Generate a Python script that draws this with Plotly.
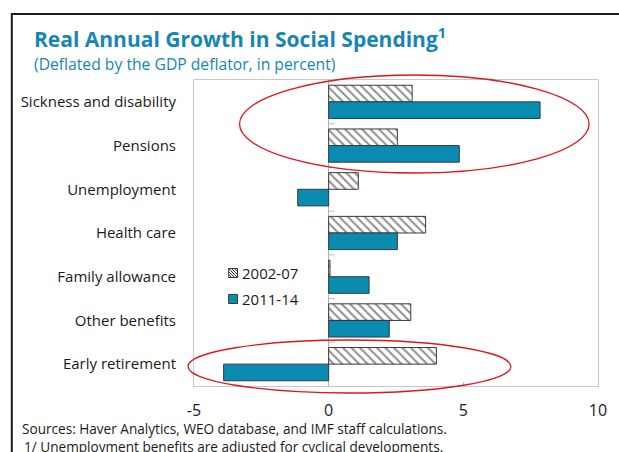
import plotly.graph_objects as go

# Spending categories, top to bottom
categories = [
    "Sickness and disability",
    "Pensions",
    "Unemployment",
    "Health care",
    "Family allowance",
    "Other benefits",
    "Early retirement",
]
# Average real annual growth, percent
growth_2002_07 = [3.1, 2.55, 1.1, 3.6, 0.05, 3.05, 4.0]
growth_2011_14 = [7.85, 4.85, -1.15, 2.55, 1.5, 2.25, -3.9]
series_names = ["2002-07", "2011-14"]
x_ticks = [-5, 0, 5, 10]

TEAL = "#0a8cb0"
TITLE_BLUE = "#1586b3"
FONT = "'Open Sans', sans-serif"

# Plot area in pixels (for placing decorations in paper coordinates)
W, H = 619, 452
L, R, T, B = 194, 17, 80, 66
PW, PH = W - L - R, H - T - B


def px(xp):
    return (xp - L) / PW


def py(yp):
    return (H - B - yp) / PH


fig = go.Figure()
fig.add_trace(go.Bar(
    y=categories, x=growth_2002_07, orientation="h", name=series_names[0],
    marker=dict(color="white", line=dict(color="#3a3a3a", width=1),
                pattern=dict(shape="\\", fgcolor="#222222", bgcolor="white",
                             size=6, solidity=0.35)),
))
fig.add_trace(go.Bar(
    y=categories, x=growth_2011_14, orientation="h", name=series_names[1],
    marker=dict(color=TEAL, line=dict(color="#2f3b40", width=1)),
))

shapes = []
# Outer frame of the panel
shapes.append(dict(type="rect", xref="paper", yref="paper",
                   x0=px(10), x1=px(640), y0=py(470), y1=py(14),
                   line=dict(color="#1a1a1a", width=2), layer="below"))
# Small category ticks along the zero line
for i in range(len(categories) - 1):
    shapes.append(dict(type="line", xref="x", yref="y",
                       x0=0, x1=0.22, y0=i + 0.5, y1=i + 0.5,
                       line=dict(color="#bbbbbb", width=1)))
# Highlight ellipses
shapes.append(dict(type="circle", xref="paper", yref="paper",
                   x0=px(240), x1=px(593), y0=py(173), y1=py(75),
                   line=dict(color="#e0151b", width=1.3)))
shapes.append(dict(type="circle", xref="paper", yref="paper",
                   x0=px(188), x1=px(514), y0=py(393), y1=py(340),
                   line=dict(color="#e0151b", width=1.3)))

# Compact legend: hatched and filled swatches with labels
sw = 9
leg_x = 229
leg_rows = [273, 299]
for name, yc in zip(series_names, leg_rows):
    x0, x1, y0, y1 = leg_x, leg_x + sw, yc - sw / 2, yc + sw / 2
    if name == series_names[0]:
        shapes.append(dict(type="rect", xref="paper", yref="paper",
                           x0=px(x0), x1=px(x1), y0=py(y1), y1=py(y0),
                           fillcolor="white", line=dict(color="#3a3a3a", width=1)))
        # diagonal hatching inside the swatch
        path = ""
        for k in range(-sw, sw + 1, 3):
            ax, ay = x0 + max(k, 0), y0 + max(-k, 0)
            bx, by = x0 + min(sw, sw + k), y0 + min(sw, sw - k)
            path += f"M{px(ax)},{py(ay)} L{px(bx)},{py(by)} "
        shapes.append(dict(type="path", xref="paper", yref="paper", path=path,
                           line=dict(color="#222222", width=1)))
    else:
        shapes.append(dict(type="rect", xref="paper", yref="paper",
                           x0=px(x0), x1=px(x1), y0=py(y1), y1=py(y0),
                           fillcolor=TEAL, line=dict(color="#2f3b40", width=1)))

annotations = [
    dict(text="<b>Real Annual Growth in Social Spending<sup>1</sup></b>",
         xref="paper", yref="paper", x=px(31), y=py(54), xanchor="left",
         yanchor="bottom", showarrow=False, borderpad=0,
         font=dict(family=FONT, size=21, color=TITLE_BLUE)),
    dict(text="(Deflated by the GDP deflator, in percent)",
         xref="paper", yref="paper", x=px(31), y=py(64), xanchor="left",
         yanchor="middle", showarrow=False, borderpad=0,
         font=dict(family=FONT, size=15.7, color=TITLE_BLUE)),
    dict(text="Sources: Haver Analytics, WEO database, and IMF staff calculations.",
         xref="paper", yref="paper", x=px(18), y=py(428), xanchor="left",
         yanchor="middle", showarrow=False,
         font=dict(family=FONT, size=13.6, color="#1a1a1a")),
    dict(text="1/ Unemployment benefits are adjusted for cyclical developments.",
         xref="paper", yref="paper", x=px(20), y=py(446), xanchor="left",
         yanchor="middle", showarrow=False,
         font=dict(family=FONT, size=13.6, color="#1a1a1a")),
]
for name, yc in zip(series_names, leg_rows):
    annotations.append(dict(text=name, xref="paper", yref="paper",
                            x=px(leg_x + sw + 2), y=py(yc), xanchor="left",
                            yanchor="middle", showarrow=False,
                            font=dict(family=FONT, size=15, color="#1a1a1a")))

fig.update_layout(
    width=W, height=H,
    margin=dict(l=L, r=R, t=T, b=B),
    paper_bgcolor="white", plot_bgcolor="white",
    barmode="group", bargap=0.24, bargroupgap=0.0,
    font=dict(family=FONT, size=15, color="#1a1a1a"),
    showlegend=False,
    shapes=shapes,
    annotations=annotations,
    xaxis=dict(range=[-5, 10], tickvals=x_ticks, ticktext=[str(v) for v in x_ticks],
               showgrid=False, zeroline=True, zerolinecolor="#b0b0b0",
               zerolinewidth=1, ticks="inside", ticklen=4, tickcolor="#bbbbbb",
               showline=True, linecolor="#c8c8c8", mirror=True,
               tickfont=dict(size=16, color="#1a1a1a"), ticklabelstandoff=10),
    yaxis=dict(categoryorder="array", categoryarray=categories,
               autorange="reversed", showgrid=False, ticks="",
               showline=True, linecolor="#c8c8c8", mirror=True,
               ticklabelstandoff=14, tickfont=dict(size=15, color="#1a1a1a")),
)

fig.write_html("out.html")
